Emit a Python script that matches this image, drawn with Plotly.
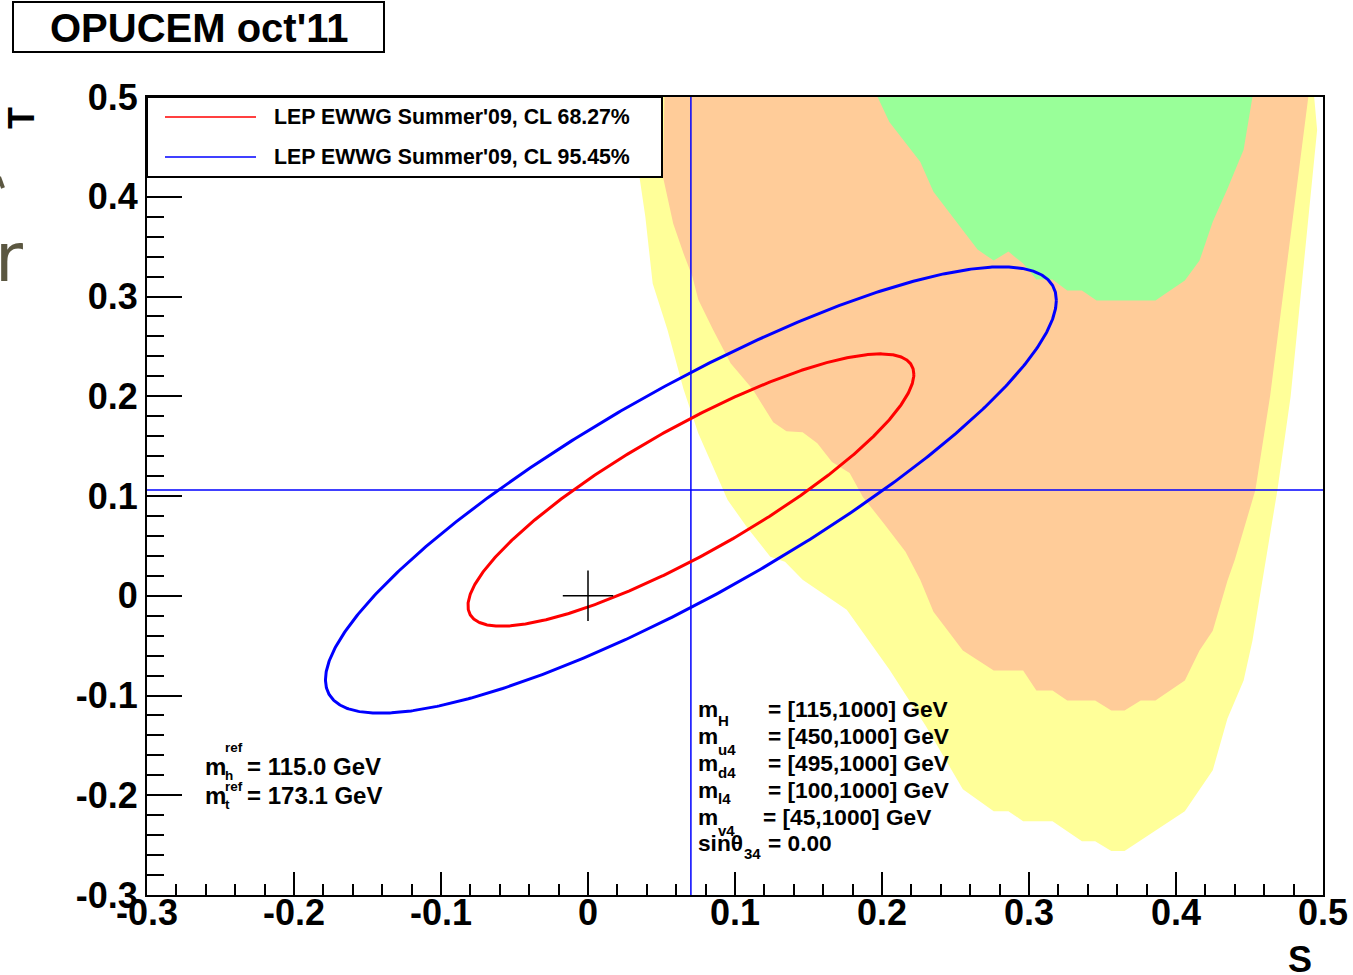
import numpy as np
import plotly.graph_objects as go

# ---------------- data ----------------
S_TICKS = [-0.3, -0.2, -0.1, 0.0, 0.1, 0.2, 0.3, 0.4, 0.5]
S_TICK_LABELS = ["-0.3", "-0.2", "-0.1", "0", "0.1", "0.2", "0.3", "0.4", "0.5"]
T_TICKS = [-0.3, -0.2, -0.1, 0.0, 0.1, 0.2, 0.3, 0.4, 0.5]
T_TICK_LABELS = ["-0.3", "-0.2", "-0.1", "0", "0.1", "0.2", "0.3", "0.4", "0.5"]

# outer (yellow) allowed region of the fourth-generation scan
YELLOW_S = [0.031, 0.035, 0.039, 0.044, 0.054, 0.065, 0.075, 0.095, 0.108, 0.124,
            0.134, 0.146, 0.176, 0.205, 0.230, 0.255, 0.276, 0.286, 0.296, 0.316,
            0.336, 0.345, 0.356, 0.365, 0.406, 0.425, 0.435, 0.446, 0.452, 0.461,
            0.469, 0.478, 0.496, 0.494]
YELLOW_T = [0.500, 0.420, 0.380, 0.313, 0.267, 0.207, 0.163, 0.096, 0.069, 0.039,
            0.034, 0.016, -0.014, -0.074, -0.131, -0.194, -0.216, -0.216, -0.226, -0.226,
            -0.246, -0.246, -0.256, -0.256, -0.216, -0.175, -0.123, -0.085, -0.045, 0.036,
            0.106, 0.200, 0.467, 0.500]

# middle (orange) region
ORANGE_S = [0.052, 0.051, 0.058, 0.065, 0.071, 0.075, 0.085, 0.097, 0.112, 0.126,
            0.135, 0.146, 0.156, 0.166, 0.178, 0.187, 0.201, 0.216, 0.226, 0.235,
            0.255, 0.276, 0.296, 0.305, 0.316, 0.326, 0.345, 0.356, 0.365, 0.376,
            0.386, 0.406, 0.416, 0.425, 0.435, 0.440, 0.454, 0.464, 0.490]
ORANGE_T = [0.500, 0.420, 0.373, 0.343, 0.320, 0.297, 0.267, 0.233, 0.207, 0.174,
            0.165, 0.164, 0.153, 0.134, 0.123, 0.099, 0.073, 0.044, 0.016, -0.016,
            -0.055, -0.075, -0.075, -0.095, -0.095, -0.105, -0.105, -0.115, -0.115, -0.105,
            -0.105, -0.085, -0.055, -0.035, 0.015, 0.036, 0.106, 0.200, 0.500]

# inner (green) region
GREEN_S = [0.197, 0.205, 0.226, 0.235, 0.265, 0.276, 0.286, 0.296, 0.305, 0.316,
           0.326, 0.336, 0.346, 0.386, 0.406, 0.416, 0.425, 0.435, 0.446, 0.452]
GREEN_T = [0.500, 0.475, 0.435, 0.405, 0.347, 0.336, 0.345, 0.333, 0.317, 0.317,
           0.306, 0.306, 0.296, 0.296, 0.316, 0.336, 0.375, 0.408, 0.447, 0.500]

# LEP EWWG Summer'09 S,T fit (central value, errors, correlation)
FIT_S0 = 0.070
FIT_T0 = 0.106
FIT_SIGMA_S = 0.100
FIT_SIGMA_T = 0.090
FIT_RHO = 0.85
CL_NAMES = ["LEP EWWG Summer'09, CL 68.27%", "LEP EWWG Summer'09, CL 95.45%"]
CL_DCHI2 = [2.30, 6.18]
CL_COLORS = ["#ff0000", "#0000ff"]

# reference point (S,T) = (0,0)
REF_S = [0.0]
REF_T = [0.0]

# ---------------- layout helpers ----------------
W, H = 1353, 975
L, R, T, B = 147, 30, 97, 80
PW, PH = W - L - R, H - T - B


def px(x):
    return (x - L) / PW


def py(y):
    return (H - B - y) / PH


FONT = "Liberation Sans, Arial, Helvetica, sans-serif"

fig = go.Figure()

# filled regions
for s, t, c in [(YELLOW_S, YELLOW_T, "#ffff99"),
                (ORANGE_S, ORANGE_T, "#ffcc99"),
                (GREEN_S, GREEN_T, "#99ff99")]:
    fig.add_trace(go.Scatter(x=s, y=t, mode="lines", fill="toself", fillcolor=c,
                             line=dict(width=0, color=c), hoverinfo="skip",
                             showlegend=False))

# central value lines
fig.add_trace(go.Scatter(x=[FIT_S0, FIT_S0], y=[T_TICKS[0], T_TICKS[-1]], mode="lines",
                         line=dict(color="#0000ff", width=1.5), showlegend=False))
fig.add_trace(go.Scatter(x=[S_TICKS[0], S_TICKS[-1]], y=[FIT_T0, FIT_T0], mode="lines",
                         line=dict(color="#0000ff", width=1.5), showlegend=False))

# CL ellipses from the fit covariance
theta = np.linspace(0, 2 * np.pi, 721)
for name, d2, col in zip(CL_NAMES, CL_DCHI2, CL_COLORS):
    k = np.sqrt(d2)
    es = FIT_S0 + k * FIT_SIGMA_S * np.cos(theta)
    et = FIT_T0 + k * FIT_SIGMA_T * (FIT_RHO * np.cos(theta)
                                     + np.sqrt(1 - FIT_RHO ** 2) * np.sin(theta))
    fig.add_trace(go.Scatter(x=es, y=et, mode="lines", name=name,
                             line=dict(color=col, width=3), showlegend=False))

# reference point cross
fig.add_trace(go.Scatter(x=REF_S, y=REF_T, mode="markers",
                         marker=dict(symbol="cross-thin", size=36,
                                     line=dict(color="black", width=1.5)),
                         showlegend=False))

shapes = []
annotations = []

# title box
shapes.append(dict(type="rect", xref="paper", yref="paper",
                   x0=px(13), x1=px(384), y0=py(52), y1=py(2),
                   line=dict(color="black", width=2), fillcolor="white", layer="above"))
annotations.append(dict(text="OPUCEM oct'11", x=px(199), y=py(28.5), xref="paper", yref="paper",
                        xanchor="center", yanchor="middle", showarrow=False,
                        font=dict(family=FONT, size=40, color="black", weight="bold")))

# legend box
shapes.append(dict(type="rect", xref="paper", yref="paper",
                   x0=px(147), x1=px(662), y0=py(177), y1=py(97),
                   line=dict(color="black", width=2), fillcolor="white", layer="above"))
for i, (name, col) in enumerate(zip(CL_NAMES, CL_COLORS)):
    yy = 117 + 40 * i
    shapes.append(dict(type="line", xref="paper", yref="paper",
                       x0=px(165), x1=px(256), y0=py(yy), y1=py(yy),
                       line=dict(color=col, width=1.5), layer="above"))
    annotations.append(dict(text=name, x=px(272), y=py(yy), xref="paper", yref="paper",
                            xanchor="left", yanchor="middle", showarrow=False,
                            font=dict(family=FONT, size=21.3, color="black", weight="bold")))

# axis titles
annotations.append(dict(text="T", x=px(22), y=py(118), xref="paper", yref="paper",
                        xanchor="center", yanchor="middle", showarrow=False, textangle=-90,
                        font=dict(family=FONT, size=36, color="black", weight="bold")))
annotations.append(dict(text="S", x=px(1300), y=py(959), xref="paper", yref="paper",
                        xanchor="center", yanchor="middle", showarrow=False,
                        font=dict(family=FONT, size=36, color="black", weight="bold")))

# cropped olive glyph at the left edge
annotations.append(dict(text="r", x=px(-7), y=py(257), xref="paper", yref="paper",
                        xanchor="left", yanchor="middle", showarrow=False,
                        font=dict(family="DejaVu Sans", size=68, color="#5b5741")))
shapes.append(dict(type="line", xref="paper", yref="paper",
                   x0=px(-1), x1=px(3), y0=py(177), y1=py(188),
                   line=dict(color="#5b5741", width=4)))


def txt(s, x, y, size=22.7, anchor="left"):
    annotations.append(dict(text=s, x=px(x), y=py(y), xref="paper", yref="paper",
                            xanchor=anchor, yanchor="middle", showarrow=False,
                            font=dict(family=FONT, size=size, color="black", weight="bold")))


# reference masses
txt("m", 203, 766, 24)
txt("ref", 223, 747, 13.5)
txt("h", 223, 775, 13.5)
txt("= 115.0 GeV", 245, 766, 24)
txt("m", 203, 795, 24)
txt("ref", 223, 786, 13.5)
txt("t", 223, 804, 13.5)
txt("= 173.1 GeV", 245, 795, 24)

# scan ranges
rows = [("H", "= [115,1000] GeV", 709, 720, 766),
        ("u4", "= [450,1000] GeV", 736, 749, 766),
        ("d4", "= [495,1000] GeV", 763, 772, 766),
        ("l4", "= [100,1000] GeV", 790, 798, 766),
        ("v4", "= [45,1000] GeV", 817, 830, 761)]
for sub, rhs, yc, ys, xr in rows:
    txt("m", 696, yc)
    txt(sub, 716, ys, 15)
    txt(rhs, xr, yc)
txt("sin\u03b8", 696, 843)
txt("34", 742, 853, 15)
txt("= 0.00", 766, 843)

axis_common = dict(showgrid=False, zeroline=False, showline=True, linecolor="black",
                   linewidth=2, mirror=True, ticks="inside", tickcolor="black",
                   tickwidth=2, ticklabeloverflow="allow", automargin=False,
                   tickfont=dict(family=FONT, size=36, color="black", weight="bold"))

fig.update_layout(
    width=W, height=H, autosize=False,
    margin=dict(l=L, r=R, t=T, b=B, pad=0, autoexpand=False),
    paper_bgcolor="white", plot_bgcolor="white",
    showlegend=False,
    xaxis=dict(range=[-0.3, 0.5], tickvals=S_TICKS, ticktext=S_TICK_LABELS, ticklen=23,
               ticklabelstandoff=-15,
               minor=dict(ticks="inside", ticklen=11, dtick=0.02, tickcolor="black",
                          tickwidth=2),
               **axis_common),
    yaxis=dict(range=[-0.3, 0.5], tickvals=T_TICKS, ticktext=T_TICK_LABELS, ticklen=35,
               minor=dict(ticks="inside", ticklen=17, dtick=0.02, tickcolor="black",
                          tickwidth=2),
               **axis_common),
    shapes=shapes,
    annotations=annotations,
)

fig.write_html("out.html", config={"displayModeBar": False, "responsive": False},
               post_script="document.body.style.margin='0px';")
